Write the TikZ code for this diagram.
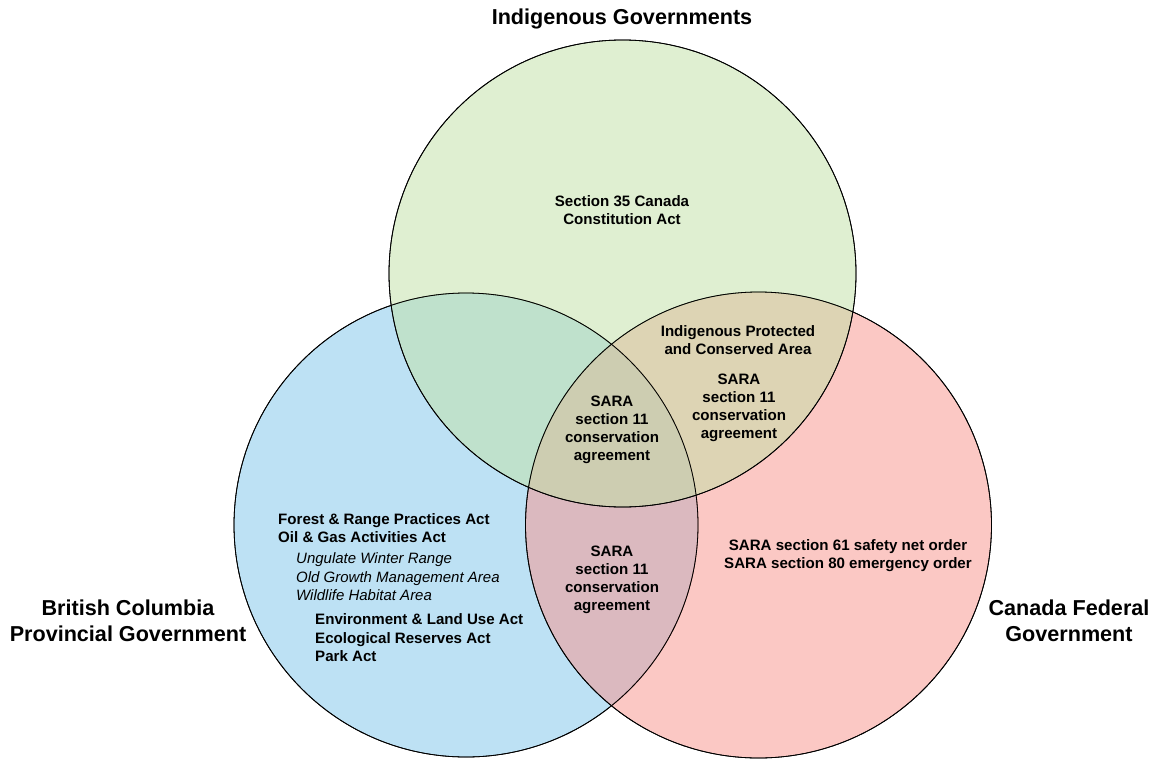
\documentclass[tikz,border=0pt]{standalone}
\usepackage{fontspec}
\setmainfont{Liberation Sans}
\definecolor{cgreen}{HTML}{C1E1A5}
\definecolor{cblue}{HTML}{7DC5EB}
\definecolor{cred}{HTML}{F9938B}
\tikzset{
  venn/.style={draw=black, line width=0.8pt, fill opacity=0.5},
  body/.style={font=\bfseries\fontsize{15.1}{18.2}\selectfont, align=center, inner sep=0pt},
  bodyl/.style={font=\bfseries\fontsize{15.1}{18.5}\selectfont, align=left, inner sep=0pt, anchor=west},
  ital/.style={font=\itshape\fontsize{15}{18.5}\selectfont, align=left, inner sep=0pt, anchor=west},
  title/.style={font=\bfseries\fontsize{21.6}{26}\selectfont, align=center, inner sep=0pt}
}
\begin{document}
\begin{tikzpicture}[x=1pt,y=-1pt]
\useasboundingbox (0,0) rectangle (1158,760);
\fill[white] (0,0) rectangle (1158,760);
\path[venn, fill=cblue] (466,525) circle[radius=232] node (bc) {};
\path[venn, fill=cred] (758.5,525) circle[radius=233] node (cf) {};
\path[venn, fill=cgreen] (622.5,273.5) circle[radius=233.5] node (ig) {};
\draw[line width=0.8pt] (466,525) circle[radius=232];
\draw[line width=0.8pt] (758.5,525) circle[radius=233];
\draw[line width=0.8pt] (622.5,273.5) circle[radius=233.5];

\node[title] (t1) at (622,19) {Indigenous Governments};
\node[title] (t2) at (128,621) {British Columbia\\Provincial Government};
\node[title] (t3) at (1069,621) {Canada Federal\\Government};

\node[body] (s35) at (622,210) {Section 35 Canada\\Constitution Act};
\node[body] (ipca) at (738,340) {Indigenous Protected\\and Conserved Area};
\node[body] (gr) at (739,408) {SARA\\section 11\\conservation\\agreement};
\node[body] (all) at (612,430) {SARA\\section 11\\conservation\\agreement};
\node[body] (br) at (612,580) {SARA\\section 11\\conservation\\agreement};
\node[body] (red) at (848,556) {SARA section 61 safety net order\\SARA section 80 emergency order};

\node[bodyl] (fr) at (278,528) {Forest \& Range Practices Act\\Oil \& Gas Activities Act};
\node[ital] (it) at (296,577) {Ungulate Winter Range\\Old Growth Management Area\\Wildlife Habitat Area};
\node[bodyl] (env) at (315,638) {Environment \& Land Use Act\\Ecological Reserves Act\\Park Act};
\end{tikzpicture}
\end{document}
